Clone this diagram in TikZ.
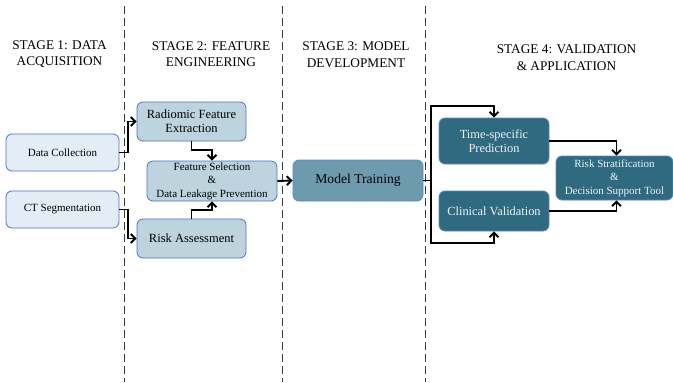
\documentclass[tikz,border=0pt]{standalone}
\usepackage{fontspec}
\setmainfont{Liberation Serif}
\usetikzlibrary{arrows.meta}
\definecolor{cA}{HTML}{E4EDF5}
\definecolor{cB}{HTML}{BDD3DE}
\definecolor{cC}{HTML}{6E9AAE}
\definecolor{cD}{HTML}{2F6A80}
\definecolor{bd}{HTML}{4A72C0}
\definecolor{bdd}{HTML}{5B8AC0}
\definecolor{txd}{HTML}{EEF3F6}
\definecolor{dsh}{HTML}{3A3A3A}
\begin{document}
\begin{tikzpicture}[x=1pt,y=-1pt,
  box/.style={rectangle, rounded corners=6pt, draw=bd, line width=0.8pt, align=center, inner sep=1pt},
  s1/.style={box, fill=cA, font=\fontsize{11}{13.5}\selectfont},
  s2/.style={box, fill=cB},
  s3/.style={box, fill=cC, draw=bdd, font=\fontsize{13.6}{16}\selectfont},
  s4/.style={box, fill=cD, draw=bdd, text=txd},
  hdr/.style={align=center, font=\fontsize{13.3}{16.5}\selectfont},
  sep/.style={draw=dsh, line width=0.9pt, dash pattern=on 8pt off 4pt},
  arr/.style={-{Straight Barb[length=4.5pt,width=9pt]}, line width=1.9pt, black}]
\useasboundingbox (0,0) rectangle (673,383);
% separators
\draw[sep] (124.8,6) -- (124.8,382);
\draw[sep] (282.5,6) -- (282.5,382);
\draw[sep] (425.5,6) -- (425.5,382);
% headers
\node[hdr] (h1) at (59.5,54) {STAGE 1: DATA\\ACQUISITION};
\node[hdr] (h2) at (211,54) {STAGE 2: FEATURE\\ENGINEERING};
\node[hdr] (h3) at (356,54.5) {STAGE 3: MODEL\\DEVELOPMENT};
\node[hdr] (h4) at (566.5,57.5) {STAGE 4: VALIDATION\\\& APPLICATION};
% stage 1
\node[s1, minimum width=113pt, minimum height=37pt] (dc) at (62.5,152.5) {Data Collection};
\node[s1, minimum width=113pt, minimum height=37pt] (ct) at (62.5,209.5) {CT Segmentation};
% stage 2
\node[s2, minimum width=109pt, minimum height=39pt, font=\fontsize{12.5}{14.3}\selectfont] (rad) at (191.5,121.5) {Radiomic Feature\\Extraction};
\node[s2, minimum width=130pt, minimum height=40pt, font=\fontsize{11}{13.5}\selectfont] (fs) at (212,181) {Feature Selection\\\&\\Data Leakage Prevention};
\node[s2, minimum width=109pt, minimum height=39pt, font=\fontsize{12.5}{14.3}\selectfont] (ra) at (191.5,238.5) {Risk Assessment};
% stage 3
\node[s3, minimum width=130pt, minimum height=41pt] (mt) at (358,180.5) {Model Training};
% stage 4
\node[s4, minimum width=110pt, minimum height=46pt, font=\fontsize{12.4}{14.5}\selectfont] (ts) at (494,141) {Time-specific\\Prediction};
\node[s4, minimum width=110pt, minimum height=40pt, font=\fontsize{12.4}{14.5}\selectfont] (cv) at (494,211) {Clinical Validation};
\node[s4, minimum width=117pt, minimum height=44pt, font=\fontsize{11}{13.3}\selectfont] (rs) at (614.5,178) {Risk Stratification\\\&\\Decision Support Tool};
% connectors
\draw[arr] (dc.east) -- ++(9,0) |- (rad.west);
\draw[arr] (ct.east) -- ++(9,0) |- (ra.west);
\draw[arr] (rad.south) -- ++(0,9) -| (fs.north);
\draw[arr] (ra.north) -- ++(0,-9) -| (fs.south);
\draw[arr] (fs.east) -- (mt.west);
\draw[arr] (mt.east) -| ++(8,-74.5) -| (ts.north);
\draw[arr] (mt.east) -| ++(8,62.5) -| (cv.south);
\draw[arr] (ts.east) -| ([xshift=2pt]rs.north);
\draw[arr] (cv.east) -| ([xshift=2pt]rs.south);
\end{tikzpicture}
\end{document}
